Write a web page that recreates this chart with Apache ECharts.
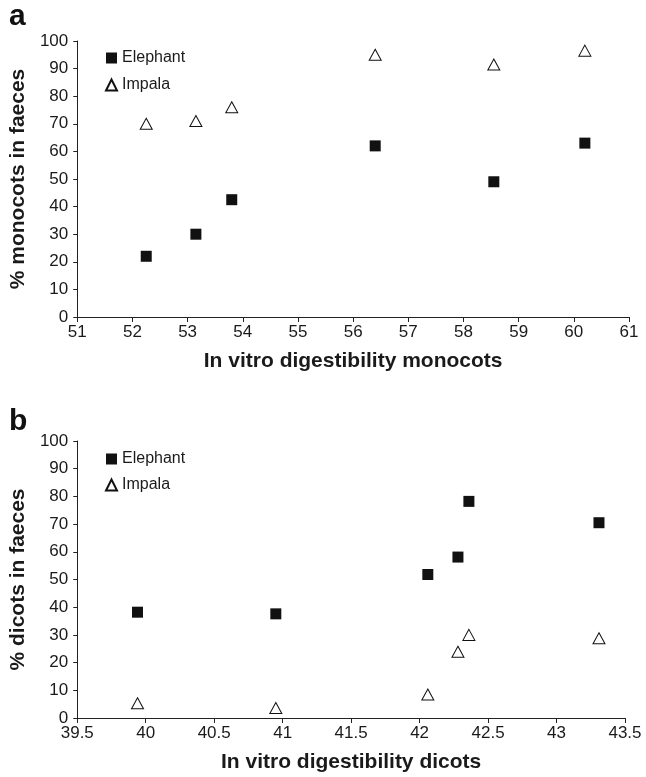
<!DOCTYPE html>
<html>
<head>
  <meta charset='utf-8'>
  <script src="https://cdn.jsdelivr.net/npm/echarts@6/dist/echarts.min.js"></script>
  <title>Digestibility vs faeces</title>
  <style>
    body { margin: 0; background: #fff; }
  </style>
</head>
<body>
<div id="main" style="width: 646px;height:777px;"></div>
<script type="text/javascript">
  // panel a: monocots
  var monoX = [52.25, 53.15, 53.8, 56.4, 58.55, 60.2];
  var monoElephant = [22, 30, 42.5, 62, 49, 63];
  var monoImpala = [70, 71, 76, 95, 91.5, 96.5];

  // panel b: dicots
  var dicotX = [39.94, 40.95, 42.06, 42.28, 42.36, 43.31];
  var dicotElephant = [38.2, 37.6, 51.8, 58.1, 78.2, 70.5];
  var dicotImpala = [5.3, 3.6, 8.5, 23.9, 30, 28.8];

  function pairs(xs, ys) {
    return xs.map(function (x, i) { return [x, ys[i]] })
  }

  var font = 'Liberation Sans'
  var txt = '#1a1a1a'

  function xAxis(idx, min, max, step, title) {
    return {
      type: 'value', gridIndex: idx, min: min, max: max, interval: step,
      name: title, nameLocation: 'middle', nameGap: 34,
      nameTextStyle: { fontFamily: font, fontWeight: 'bold', fontSize: 21, color: txt },
      axisLine: { lineStyle: { color: '#222', width: 1 } },
      axisTick: { length: 5, lineStyle: { color: '#222' } },
      axisLabel: { fontFamily: font, fontSize: 17, color: txt, margin: 7 },
      splitLine: { show: false }
    }
  }

  function yAxis(idx, title) {
    return {
      type: 'value', gridIndex: idx, min: 0, max: 100, interval: 10,
      name: title, nameLocation: 'middle', nameGap: 46,
      nameTextStyle: { fontFamily: font, fontWeight: 'bold', fontSize: 21, color: txt },
      axisLine: { show: true, lineStyle: { color: '#222', width: 1 } },
      axisTick: { show: true, length: 4, lineStyle: { color: '#222' } },
      axisLabel: { fontFamily: font, fontSize: 17, color: txt, margin: 9 },
      splitLine: { show: false }
    }
  }

  var squareStyle = { color: '#111', opacity: 1 }
  var triStyle = { color: '#fff', borderColor: '#111', borderWidth: 1, opacity: 1 }
  var legendText = { fontFamily: font, fontSize: 16, color: txt }
  var legendData = [{ name: 'Elephant', icon: 'rect' }, { name: 'Impala', icon: 'triangle' }]

  var option = {
    backgroundColor: '#fff',
    animation: false,
    title: [
      { text: 'a', left: 9, top: 2, padding: 0, textStyle: { fontFamily: font, fontWeight: 'bold', fontSize: 30, color: '#111' } },
      { text: 'b', left: 9, top: 407, padding: 0, textStyle: { fontFamily: font, fontWeight: 'bold', fontSize: 30, color: '#111' } }
    ],
    legend: [
      { left: 100, top: 45, orient: 'vertical', itemGap: 11, itemWidth: 11, itemHeight: 11,
        textStyle: legendText, data: legendData },
      { left: 100, top: 446, orient: 'vertical', itemGap: 10, itemWidth: 11, itemHeight: 11,
        textStyle: legendText, data: legendData }
    ],
    grid: [
      { left: 77, right: 17, top: 41, height: 276 },
      { left: 77, right: 21, top: 441, height: 277 }
    ],
    xAxis: [
      xAxis(0, 51, 61, 1, 'In vitro digestibility monocots'),
      xAxis(1, 39.5, 43.5, 0.5, 'In vitro digestibility dicots')
    ],
    yAxis: [
      yAxis(0, '% monocots in faeces'),
      yAxis(1, '% dicots in faeces')
    ],
    series: [
      { name: 'Elephant', type: 'scatter', xAxisIndex: 0, yAxisIndex: 0, symbol: 'rect', symbolSize: 11,
        itemStyle: squareStyle, data: pairs(monoX, monoElephant) },
      { name: 'Impala', type: 'scatter', xAxisIndex: 0, yAxisIndex: 0, symbol: 'triangle', symbolSize: [12, 11],
        itemStyle: triStyle, data: pairs(monoX, monoImpala) },
      { name: 'Elephant', type: 'scatter', xAxisIndex: 1, yAxisIndex: 1, symbol: 'rect', symbolSize: 11,
        itemStyle: squareStyle, data: pairs(dicotX, dicotElephant) },
      { name: 'Impala', type: 'scatter', xAxisIndex: 1, yAxisIndex: 1, symbol: 'triangle', symbolSize: [12, 11],
        itemStyle: triStyle, data: pairs(dicotX, dicotImpala) }
    ]
  };

  var myChart = echarts.init(document.getElementById('main'));
  myChart.setOption(option);
</script>
</body>
</html>
